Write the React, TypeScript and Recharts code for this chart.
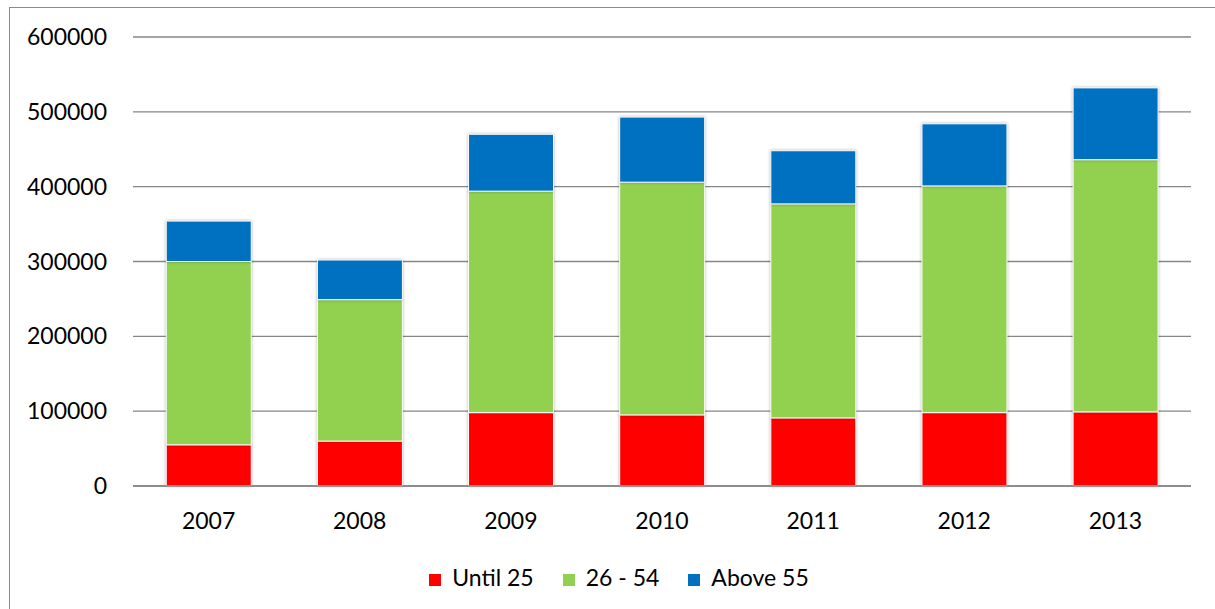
import React from "react";
import { BarChart, Bar, XAxis, YAxis, CartesianGrid, Legend } from "recharts";

const years = ["2007", "2008", "2009", "2010", "2011", "2012", "2013"];
const until25 = [55000, 60000, 98000, 95000, 91000, 98000, 99000];
const mid = [245000, 189000, 296000, 311000, 286000, 303000, 337000];
const above55 = [54000, 53000, 76000, 87000, 71000, 83000, 96000];
const yTicks = [0, 100000, 200000, 300000, 400000, 500000, 600000];
const seriesNames = ["Until 25", "26 - 54", "Above 55"];

const data = years.map((y, i) => ({
  year: y,
  u25: until25[i],
  mid: mid[i],
  a55: above55[i],
}));

const FONT = "Lato, 'Open Sans', sans-serif";

export default function App() {
  return (
    <div
      style={{
        position: "absolute",
        left: 0,
        top: 0,
        width: 1215,
        height: 609,
        overflow: "hidden",
        background: "#fff",
        fontFamily: FONT,
      }}
    >
      <style>{`.recharts-bar-rectangle path { filter: drop-shadow(0px 0px 1.5px rgba(0,0,0,0.3)); }`}</style>
      <div
        style={{
          position: "absolute",
          left: 9,
          top: 7,
          width: 1400,
          height: 800,
          borderLeft: "1px solid #8a8a8a",
          borderTop: "1px solid #8a8a8a",
        }}
      />
      <div style={{ position: "absolute", left: 0, top: 0 }}>
        <BarChart
          width={1215}
          height={609}
          data={data}
          margin={{ top: 37, right: 24, left: 0, bottom: 18 }}
          barCategoryGap="22%"
        >
          <CartesianGrid vertical={false} stroke="#868686" strokeWidth={1.3} />
          <XAxis
            dataKey="year"
            axisLine={{ stroke: "#868686", strokeWidth: 1.3 }}
            tickLine={false}
            tickSize={0}
            tickMargin={27}
            height={77}
            tick={{ fill: "#000", fontSize: 23, fontFamily: FONT, fontWeight: 400 }}
          />
          <YAxis
            width={133}
            domain={[0, 600000]}
            ticks={yTicks}
            axisLine={false}
            tickLine={false}
            tickSize={0}
            tickMargin={26}
            tick={{ fill: "#000", fontSize: 23, fontFamily: FONT, fontWeight: 400 }}
          />
          <Legend
            iconType="square"
            iconSize={12}
            itemSorter={(item: any) => seriesNames.indexOf(item.value)}
            wrapperStyle={{ left: 26, width: 1215, fontSize: 23, fontFamily: FONT, fontWeight: 400, color: "#000" }}
            formatter={(v: string) => (
              <span style={{ color: "#000", marginLeft: 7, marginRight: 19 }}>{v}</span>
            )}
          />
          <Bar dataKey="u25" name="Until 25" stackId="a" fill="#FF0000" stroke="#fff" strokeWidth={1} isAnimationActive={false} />
          <Bar dataKey="mid" name="26 - 54" stackId="a" fill="#92D050" stroke="#fff" strokeWidth={1} isAnimationActive={false} />
          <Bar dataKey="a55" name="Above 55" stackId="a" fill="#0070C0" stroke="#fff" strokeWidth={1} isAnimationActive={false} />
        </BarChart>
      </div>
    </div>
  );
}
